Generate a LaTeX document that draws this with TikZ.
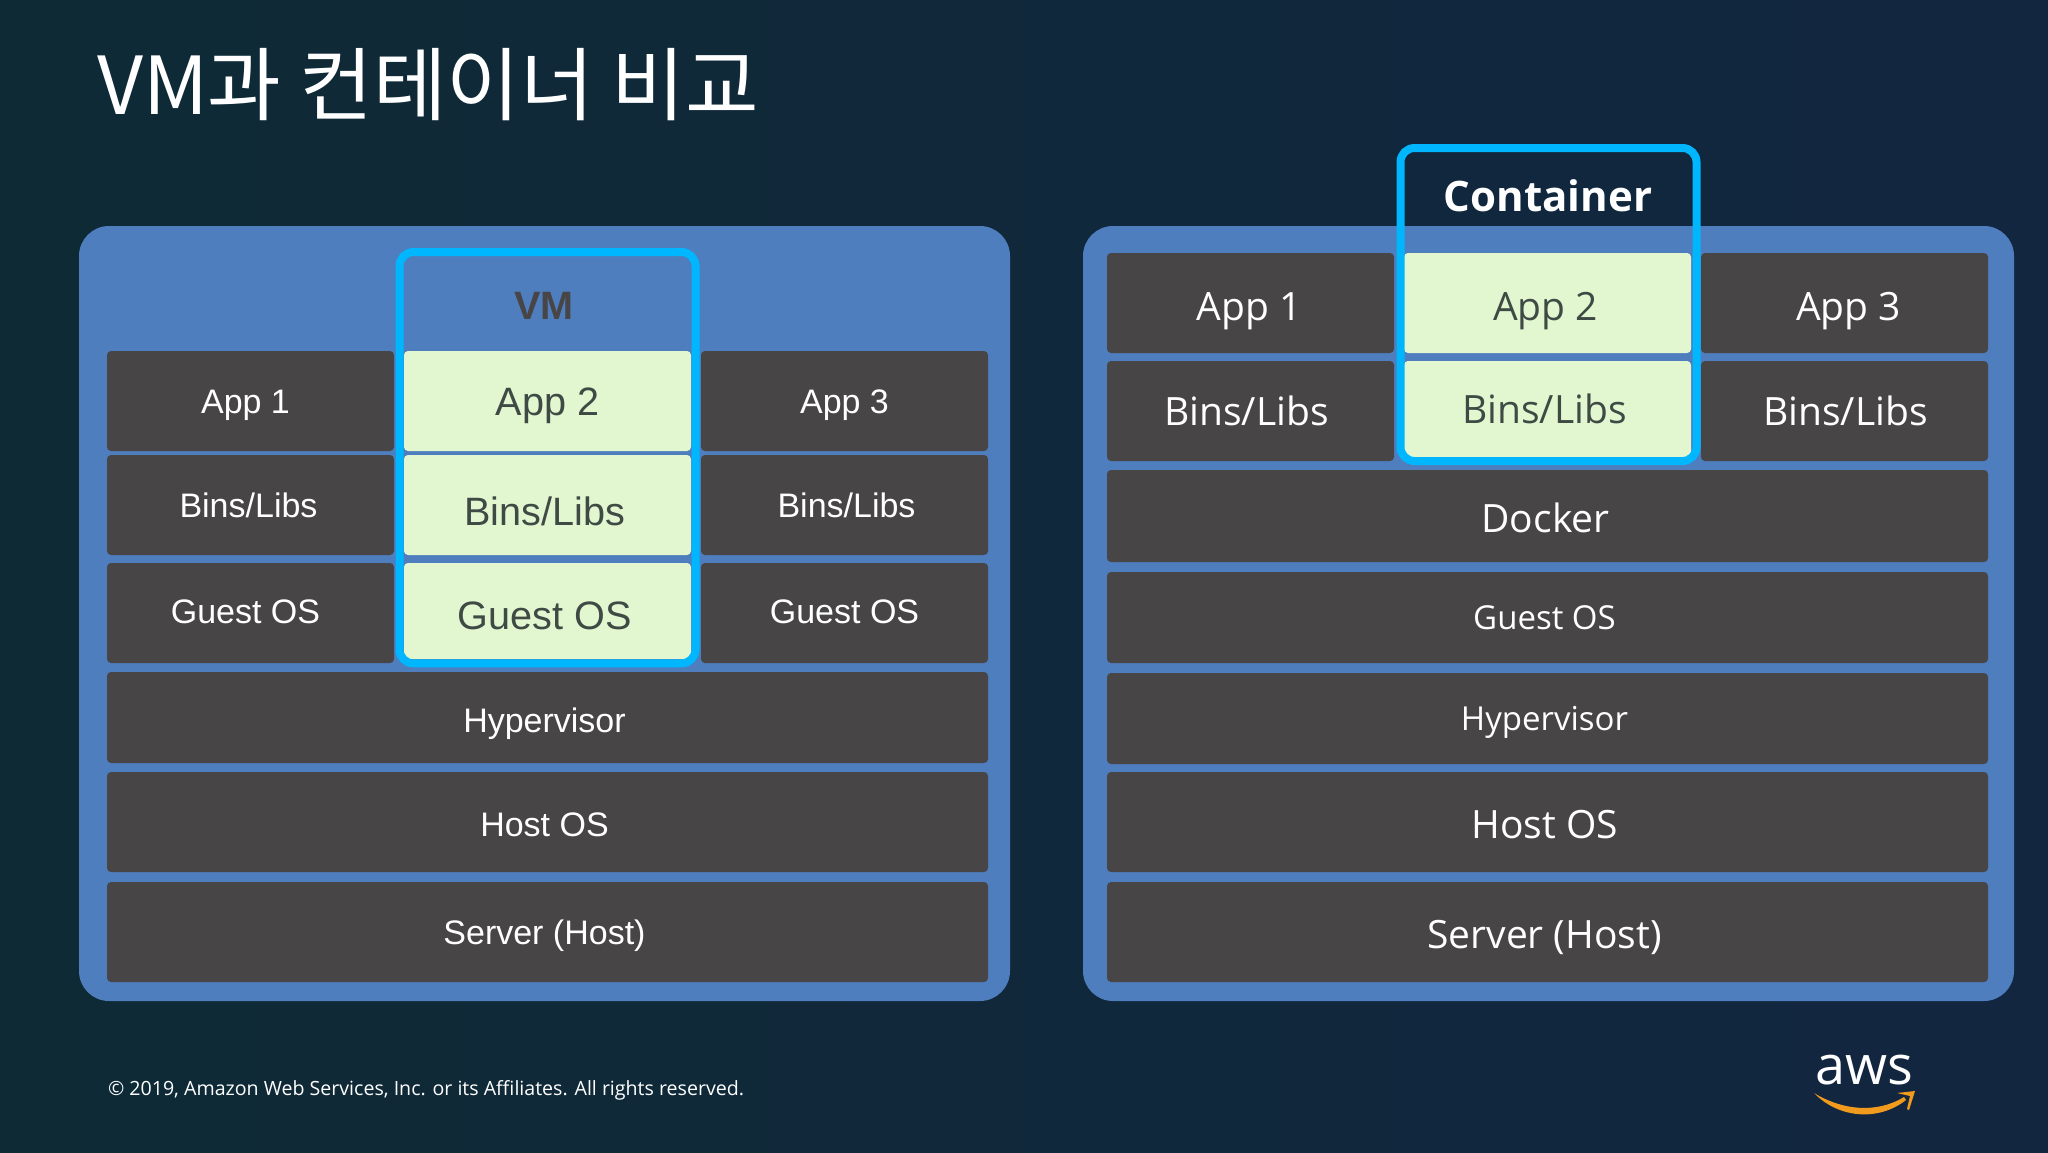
\documentclass[tikz,border=0pt]{standalone}
\usepackage{fontspec}
\setmainfont{Liberation Sans}
\newfontfamily\opensans{Open Sans}
\newfontfamily\cjk{Noto Sans CJK KR}
\usetikzlibrary{positioning}
\definecolor{bgleft}{HTML}{0E2A35}
\definecolor{bgmid}{HTML}{10283A}
\definecolor{bgright}{HTML}{122640}
\definecolor{panel}{HTML}{4E7EBE}
\definecolor{slab}{HTML}{474546}
\definecolor{mint}{HTML}{E2F7D0}
\definecolor{mintink}{HTML}{3F4A45}
\definecolor{frameblue}{HTML}{00B6FF}
\definecolor{smile}{HTML}{F09A1E}
\tikzset{
  every node/.style={outer sep=0pt,inner sep=0pt},
  trail/.style={execute at end node={\hspace*{#1}}},
  panelbox/.style={fill=panel,rounded corners=15pt,minimum width=465.5pt,minimum height=387.5pt,anchor=north west},
  slabbox/.style={fill=slab,text=white,rounded corners=2pt,minimum height=50pt,text height=12.2pt,text depth=0pt,font=\fontsize{17}{20}\selectfont},
  narrow/.style={slabbox,minimum width=143.5pt},
  wide/.style={slabbox,minimum width=440.5pt},
  pick/.style={narrow,fill=mint,text=mintink,text height=14.2pt,font=\fontsize{19.8}{22}\selectfont},
  framebox/.style={draw=frameblue,line width=4pt,rounded corners=7pt,minimum width=148pt,anchor=north west},
  ctext/.style={text height=14pt,font=\opensans\fontsize{19.5}{22}\selectfont},
  csmall/.style={text height=11.8pt,font=\opensans\fontsize{16.5}{20}\selectfont}
}
\begin{document}
\begin{tikzpicture}[x=0.5pt,y=-0.5pt]
\useasboundingbox (0,0) rectangle (2048,1152);
\shade[left color=bgleft,middle color=bgmid,right color=bgright] (0,0) rectangle (2048,1152);
\node[anchor=base west,text=white,font=\cjk\fontsize{40}{44}\selectfont] (title) at (97,114) {VM과 컨테이너 비교};
% left stack
\node[panelbox] (vmpanel) at (79,226) {};
\node[narrow,anchor=north west,trail=5pt] (vmapp1) at (107,351) {App 1};
\node[pick,right=5pt of vmapp1] (vmapp2) {App 2};
\node[narrow,right=5pt of vmapp2] (vmapp3) {App 3};
\node[narrow,below=2pt of vmapp1,trail=2pt] (vmbins1) {Bins/Libs};
\node[pick,below=2pt of vmapp2,trail=3pt] (vmbins2) {\raisebox{-3pt}{Bins/Libs}};
\node[narrow,below=2pt of vmapp3] (vmbins3) {\hspace*{2pt}Bins/Libs};
\node[narrow,below=4pt of vmbins1,trail=5pt] (vmguest1) {\raisebox{1pt}{Guest OS}};
\node[pick,below=4pt of vmbins2,minimum height=48pt,trail=3pt] (vmguest2) {\raisebox{-2pt}{Guest OS}};
\node[narrow,below=4pt of vmbins3] (vmguest3) {\raisebox{1pt}{Guest OS}};
\node[wide,anchor=north west,minimum height=45.5pt,trail=3pt] (vmhyper) at (107,672) {\raisebox{-1.3pt}{Hypervisor}};
\node[wide,below=4.5pt of vmhyper,trail=3pt] (vmhost) {\raisebox{-1pt}{Host OS}};
\node[wide,below=5pt of vmhost,trail=3pt] (vmserver) {Server (Host)};
\node[framebox,minimum height=205.7pt] (vmframe) at (399.5,252) {};
\node[font=\bfseries\fontsize{19.8}{22}\selectfont,text=slab] (vmlabel) at (544,306) {VM};
% right stack
\node[panelbox] (ctpanel) at (1083,226) {};
\node[narrow,ctext,anchor=north west,trail=1.4pt] (ctapp1) at (1107,253) {\raisebox{-1.5pt}{App 1}};
\node[pick,ctext,right=5pt of ctapp1,trail=2pt] (ctapp2) {\raisebox{-1.5pt}{App 2}};
\node[narrow,ctext,right=5pt of ctapp2] (ctapp3) {\hspace*{4pt}\raisebox{-1.5pt}{App 3}};
\node[narrow,ctext,below=4pt of ctapp1,trail=4pt] (ctbins1) {Bins/Libs};
\node[pick,ctext,below=4pt of ctapp2,minimum height=48pt,trail=3pt] (ctbins2) {Bins/Libs};
\node[narrow,ctext,below=4pt of ctapp3] (ctbins3) {\hspace*{1pt}Bins/Libs};
\node[wide,ctext,anchor=north west,minimum height=46pt,trail=2pt] (ctdocker) at (1107,470) {\raisebox{-1pt}{Docker}};
\node[wide,csmall,below=5pt of ctdocker,minimum height=45.5pt,trail=3pt] (ctguest) {Guest OS};
\node[wide,csmall,below=5pt of ctguest,minimum height=45.5pt,trail=3pt] (cthyper) {Hypervisor};
\node[wide,ctext,below=4pt of cthyper,trail=3pt] (cthost) {\raisebox{-1.3pt}{Host OS}};
\node[wide,ctext,below=5pt of cthost,trail=3pt] (ctserver) {\raisebox{-1pt}{Server (Host)}};
\node[framebox,minimum height=156.5pt] (ctframe) at (1400.5,148) {};
\node[font=\opensans\bfseries\fontsize{21}{24}\selectfont,text=white] (ctlabel) at (1548,196) {Container};
% footer
\node[anchor=west,text=white,font=\opensans\fontsize{9.8}{12}\selectfont] (notice) at (108,1090) {© 2019, Amazon Web Services, Inc. or its Affiliates. All rights reserved.};
\node[text=white,font=\opensans\fontsize{27}{30}\selectfont] (awsmark) at (1864,1070) {aws};
\fill[smile] (1814,1093) .. controls (1842,1110) and (1876,1114) .. (1904,1097) -- (1906,1100) .. controls (1878,1122) and (1838,1118) .. (1814,1093) -- cycle;
\fill[smile] (1897,1093) -- (1915,1091) -- (1909,1110) -- (1907,1109) -- (1910,1096) -- cycle;
\end{tikzpicture}
\end{document}
